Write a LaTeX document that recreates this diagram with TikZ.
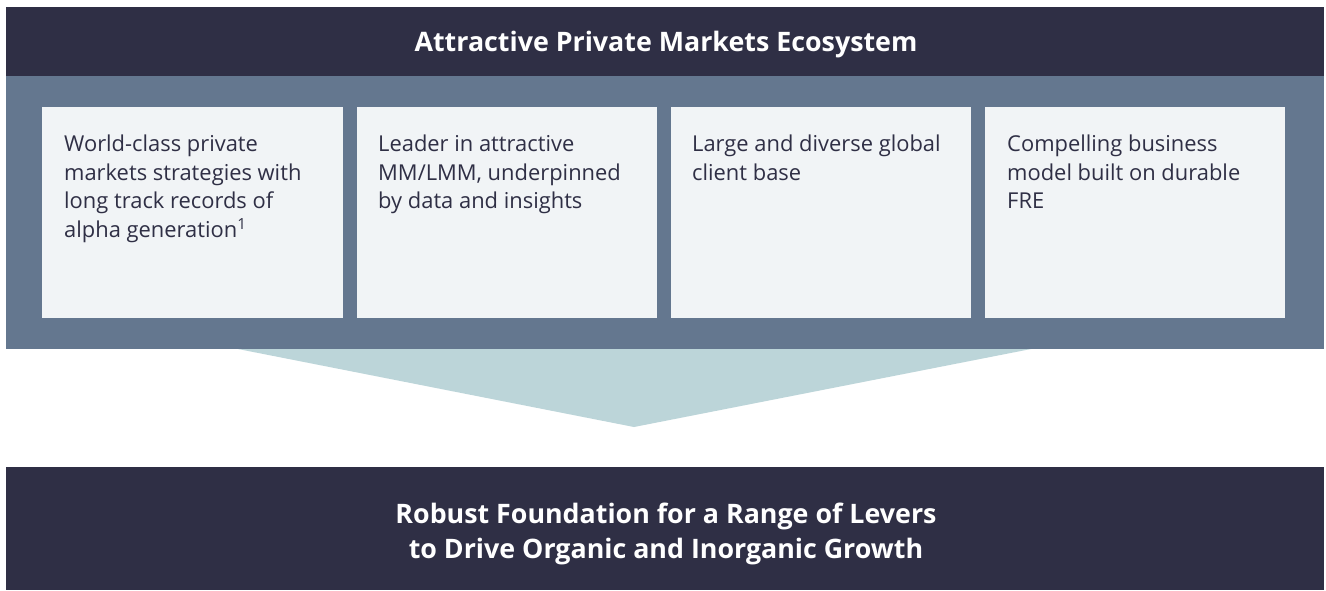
\documentclass[tikz,border=0pt]{standalone}
\usepackage{fontspec}
\setmainfont{Open Sans}
\definecolor{navy}{HTML}{2F2F45}
\definecolor{slate}{HTML}{64778F}
\definecolor{cardfill}{HTML}{F1F4F6}
\definecolor{funnel}{HTML}{BCD5D9}
\begin{document}
\begin{tikzpicture}[x=1pt,y=-1pt,
  bar/.style={fill=navy,draw=none},
  card/.style={fill=cardfill,draw=none},
  cardtext/.style={anchor=north west,align=left,text=navy,font=\fontsize{21.9}{28.4}\selectfont,inner sep=0pt},
  bartext/.style={text=white,align=center,font=\fontsize{26.8}{35}\selectfont\bfseries,inner sep=0pt}]
\useasboundingbox (0,0) rectangle (1326,590);
\fill[white] (0,0) rectangle (1326,590);
% top bar and band
\fill[slate] (6,76) rectangle (1324,349);
\fill[bar] (6,7) rectangle (1324,76);
\node[bartext] (title) at (666,45) {Attractive Private Markets Ecosystem};
% funnel
\fill[funnel] (238,349) -- (1031,349) -- (634,427) -- cycle;
\coordinate (tip) at (634,427);
% cards
\fill[card] (42,107) rectangle (343,318);
\fill[card] (357,107) rectangle (657,318);
\fill[card] (671,107) rectangle (971,318);
\fill[card] (985,107) rectangle (1285,318);
\node[cardtext] (c1) at (64,135) {World-class private\\markets strategies with\\long track records of\\alpha generation\textsuperscript{1}};
\node[cardtext] (c2) at (378,135) {Leader in attractive\\MM/LMM, underpinned\\by data and insights};
\node[cardtext] (c3) at (692,135) {Large and diverse global\\client base};
\node[cardtext] (c4) at (1007,135) {Compelling business\\model built on durable\\FRE};
% bottom bar
\fill[bar] (6,467) rectangle (1324,590);
\node[bartext] (foot) at (666,534) {Robust Foundation for a Range of Levers\\to Drive Organic and Inorganic Growth};
\end{tikzpicture}
\end{document}
